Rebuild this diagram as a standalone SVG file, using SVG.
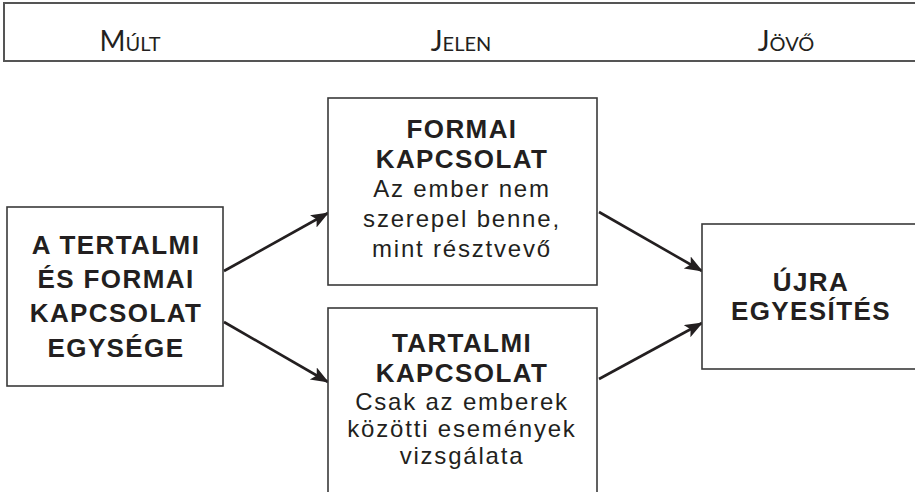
<svg xmlns="http://www.w3.org/2000/svg" width="915" height="492" viewBox="0 0 915 492">
  <style>
    .box { fill: #fff; stroke: #3a3a3a; stroke-width: 1.6; }
    .band { fill: #fff; stroke: #555; stroke-width: 2; }
    .title { font-family: "Liberation Sans", Arial, sans-serif; font-weight: bold; font-size: 26px; fill: #231f20; text-anchor: middle; letter-spacing: 1.4px; }
    .body { font-family: "Liberation Sans", Arial, sans-serif; font-size: 24px; fill: #231f20; text-anchor: middle; letter-spacing: 1.8px; }
    .era { font-family: Lato, "Liberation Sans", sans-serif; fill: #231f20; text-anchor: middle; }
    .era .big { font-size: 28px; }
    .era .small { font-size: 20px; }
    .link { stroke: #231f20; stroke-width: 2.6; fill: none; marker-end: url(#head); }
  </style>
  <defs>
    <marker id="head" markerUnits="userSpaceOnUse" markerWidth="20" markerHeight="16" refX="17" refY="7" orient="auto">
      <path d="M0,0 L18,7 L0,14 L4,7 z" fill="#231f20"/>
    </marker>
  </defs>

  <rect width="915" height="492" fill="#fff"/>

  <!-- time band -->
  <g id="timeline">
    <rect class="band" x="4" y="3" width="930" height="58"/>
    <text class="era" x="130" y="51"><tspan class="big">M</tspan><tspan class="small">ÚLT</tspan></text>
    <text class="era" x="461" y="51"><tspan class="big">J</tspan><tspan class="small">ELEN</tspan></text>
    <text class="era" x="786" y="51"><tspan class="big">J</tspan><tspan class="small">ÖVŐ</tspan></text>
  </g>

  <!-- connectors -->
  <g id="connectors">
    <line class="link" x1="224" y1="271" x2="328" y2="213"/>
    <line class="link" x1="224" y1="322" x2="328" y2="382"/>
    <line class="link" x1="599" y1="212" x2="702" y2="271"/>
    <line class="link" x1="599" y1="379" x2="702" y2="323"/>
  </g>

  <g id="unity">
    <rect class="box" x="7" y="207" width="216" height="179"/>
    <text class="title" x="116" y="254">A TERTALMI</text>
    <text class="title" x="116" y="288">ÉS FORMAI</text>
    <text class="title" x="116" y="322">KAPCSOLAT</text>
    <text class="title" x="116" y="357">EGYSÉGE</text>
  </g>

  <g id="formal">
    <rect class="box" x="328" y="98" width="269" height="187"/>
    <text class="title" x="462" y="138">FORMAI</text>
    <text class="title" x="462" y="168">KAPCSOLAT</text>
    <text class="body" x="462" y="197">Az ember nem</text>
    <text class="body" x="462" y="227">szerepel benne,</text>
    <text class="body" x="462" y="257">mint résztvevő</text>
  </g>

  <g id="content">
    <rect class="box" x="328" y="308" width="269" height="200"/>
    <text class="title" x="462" y="352">TARTALMI</text>
    <text class="title" x="462" y="382">KAPCSOLAT</text>
    <text class="body" x="462" y="410">Csak az emberek</text>
    <text class="body" x="462" y="437">közötti események</text>
    <text class="body" x="462" y="464">vizsgálata</text>
  </g>

  <g id="reunion">
    <rect class="box" x="702" y="224" width="230" height="145"/>
    <text class="title" x="811" y="291">ÚJRA</text>
    <text class="title" x="811" y="320">EGYESÍTÉS</text>
  </g>
</svg>
